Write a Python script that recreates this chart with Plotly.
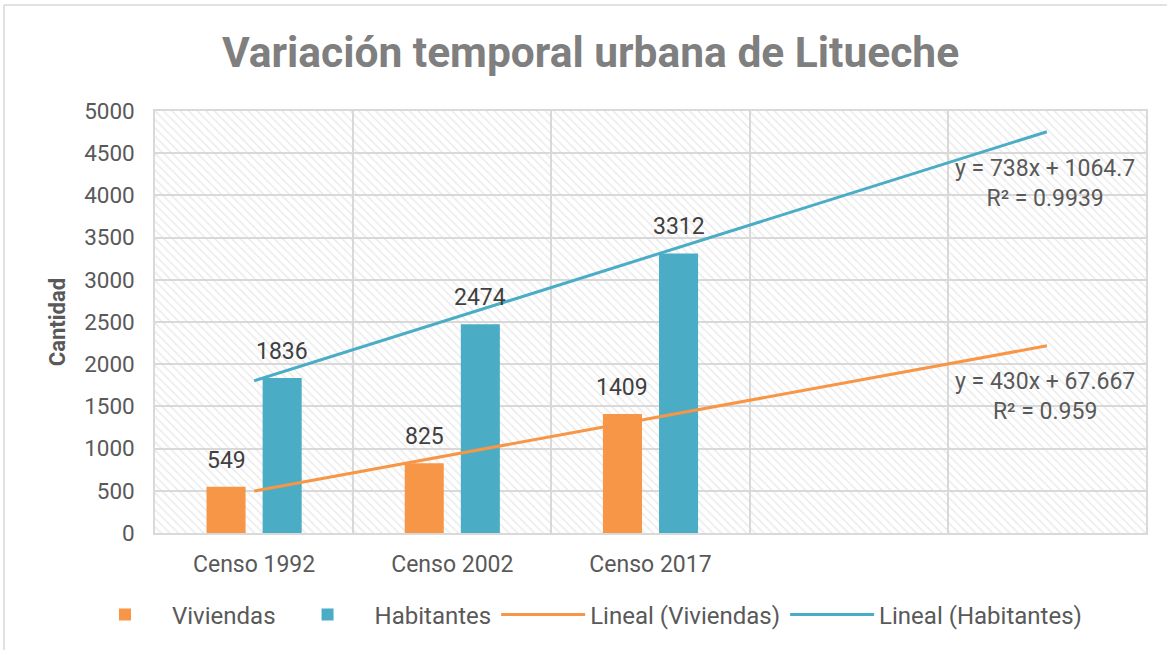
import plotly.graph_objects as go

# ---- data ----
categories = ["Censo 1992", "Censo 2002", "Censo 2017", "", ""]
viviendas = [549, 825, 1409]
habitantes = [1836, 2474, 3312]
# trendline equations shown in the chart (Excel index x = 1..5)
trend_viv = {"slope": 430, "intercept": 67.667, "label": "y = 430x + 67.667<br>R² = 0.959"}
trend_hab = {"slope": 738, "intercept": 1064.7, "label": "y = 738x + 1064.7<br>R² = 0.9939"}
y_ticks = [0, 500, 1000, 1500, 2000, 2500, 3000, 3500, 4000, 4500, 5000]

ORANGE = "#F79646"
TEAL = "#4BACC6"
GRID = "#d9d9d9"
FONT = "Roboto"
TXT = "#595959"

n_cat = len(categories)
xpos = list(range(n_cat))
xmin, xmax = -0.5, n_cat - 0.5
ymin, ymax = 0, 5000

fig = go.Figure()

# hatched plot-area background (transparent fill, grey diagonal hatch)
fig.add_trace(go.Bar(
    x=[(xmin + xmax) / 2], y=[ymax - ymin], base=ymin, width=xmax - xmin,
    marker=dict(color="rgba(0,0,0,0)", line=dict(width=0),
                pattern=dict(shape="\\", size=6, solidity=0.25, fgcolor="#d6d6d6",
                             fillmode="overlay")),
    hoverinfo="skip", showlegend=False))

bw = 0.197
off_v, off_h = -0.240, 0.043
fig.add_trace(go.Bar(
    x=xpos[:len(viviendas)], y=viviendas, name="Viviendas", marker_color=ORANGE,
    marker_line_width=0, width=bw, offset=off_v))
fig.add_trace(go.Bar(
    x=xpos[:len(habitantes)], y=habitantes, name="Habitantes", marker_color=TEAL,
    marker_line_width=0, width=bw, offset=off_h))

# data labels
for vals, off in [(viviendas, off_v), (habitantes, off_h)]:
    for i, v in enumerate(vals):
        fig.add_annotation(x=xpos[i] + off + bw / 2, y=v, text=str(v), showarrow=False,
                           xanchor="center", yanchor="bottom", yshift=11,
                           font=dict(size=23, color="#404040", family=FONT))

for tr, name, col in [(trend_viv, "Lineal (Viviendas)", ORANGE), (trend_hab, "Lineal (Habitantes)", TEAL)]:
    xs = [xpos[0], xpos[-1]]
    ys = [tr["slope"] * (x + 1) + tr["intercept"] for x in xs]
    fig.add_trace(go.Scatter(x=xs, y=ys, mode="lines", name=name,
                             line=dict(color=col, width=3), hoverinfo="skip"))

# trendline equation labels
fig.add_annotation(x=3.99, y=4500, text=trend_hab["label"], showarrow=False,
                   xanchor="center", yanchor="top", align="center",
                   font=dict(size=23, color=TXT, family=FONT))
fig.add_annotation(x=3.99, y=1980, text=trend_viv["label"], showarrow=False,
                   xanchor="center", yanchor="top", align="center",
                   font=dict(size=23, color=TXT, family=FONT))

# outer chart frame
fig.add_shape(type="line", xref="paper", yref="paper", x0=-0.1524, x1=1.1, y0=1.251, y1=1.251,
              line=dict(color=GRID, width=1.5))
fig.add_shape(type="line", xref="paper", yref="paper", x0=-0.1524, x1=-0.1524, y0=1.251, y1=-0.5,
              line=dict(color=GRID, width=1.5))

fig.update_layout(
    width=1167, height=650,
    margin=dict(l=155, r=21, t=111, b=117, autoexpand=False),
    paper_bgcolor="white", plot_bgcolor="white",
    barmode="overlay",
    font=dict(family=FONT, size=23, color=TXT),
    title=dict(text="<b>Variación temporal urbana de Litueche</b>", x=0.506, xanchor="center",
               y=0.92, yanchor="middle", font=dict(size=42.5, color="#7f7f7f", family=FONT)),
    legend=dict(orientation="h", xref="paper", yref="paper", x=-0.0777, xanchor="left",
                y=-0.194, yanchor="middle", font=dict(size=24, color=TXT),
                itemwidth=84, traceorder="normal"),
    showlegend=True,
)
fig.update_xaxes(
    range=[xmin, xmax], tickmode="array", tickvals=xpos[:3], ticktext=categories[:3],
    showgrid=False, zeroline=False, showline=True, linecolor=GRID, linewidth=1.5, mirror=True,
    ticks="", ticklabelstandoff=10, tickfont=dict(size=23, color=TXT),
    minor=dict(showgrid=True, tick0=0.5, dtick=1, gridcolor=GRID, gridwidth=1.5, ticks=""),
)
fig.update_yaxes(
    range=[ymin, ymax], tickmode="array", tickvals=y_ticks,
    showgrid=True, gridcolor=GRID, gridwidth=1.5, zeroline=False,
    showline=True, linecolor=GRID, linewidth=1.5, mirror=True, ticks="",
    ticklabelstandoff=14, tickfont=dict(size=22.5, color=TXT),
    title=dict(text="<b>Cantidad</b>", font=dict(size=22, color=TXT), standoff=12),
)

fig.write_html("out.html", config={"displayModeBar": False},
               post_script="document.body.style.margin='0';")
